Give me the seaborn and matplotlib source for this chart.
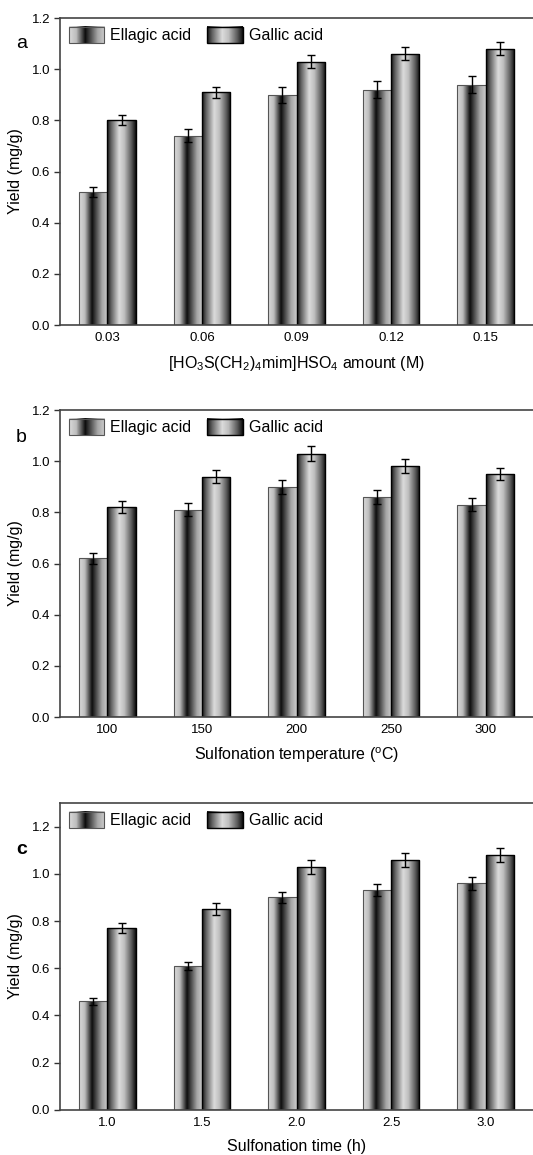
import numpy as np
import pandas as pd
import matplotlib
matplotlib.use("Agg")
import matplotlib.pyplot as plt
import seaborn as sns
from matplotlib.colors import LinearSegmentedColormap, Normalize
from matplotlib.patches import Rectangle
from matplotlib.legend_handler import HandlerBase
from matplotlib.image import BboxImage
from matplotlib.transforms import Bbox, TransformedBbox

# data
acids = ["Ellagic acid", "Gallic acid"]

amount_levels = ["0.03", "0.06", "0.09", "0.12", "0.15"]
amount_ellagic = [0.52, 0.74, 0.90, 0.92, 0.94]
amount_gallic = [0.80, 0.91, 1.03, 1.06, 1.08]
amount_ellagic_err = [0.020, 0.025, 0.032, 0.032, 0.032]
amount_gallic_err = [0.020, 0.022, 0.025, 0.025, 0.025]

temp_levels = ["100", "150", "200", "250", "300"]
temp_ellagic = [0.62, 0.81, 0.90, 0.86, 0.83]
temp_gallic = [0.82, 0.94, 1.03, 0.98, 0.95]
temp_ellagic_err = [0.020, 0.025, 0.028, 0.027, 0.025]
temp_gallic_err = [0.023, 0.025, 0.028, 0.027, 0.025]

time_levels = ["1.0", "1.5", "2.0", "2.5", "3.0"]
time_ellagic = [0.46, 0.61, 0.90, 0.93, 0.96]
time_gallic = [0.77, 0.85, 1.03, 1.06, 1.08]
time_ellagic_err = [0.015, 0.017, 0.025, 0.025, 0.027]
time_gallic_err = [0.022, 0.025, 0.030, 0.030, 0.030]

sns.set_theme(style="ticks")
plt.rcParams["font.family"] = ["Liberation Sans", "DejaVu Sans"]
plt.rcParams["mathtext.fontset"] = "custom"
plt.rcParams["mathtext.rm"] = "Liberation Sans"
plt.rcParams["mathtext.it"] = "Liberation Sans:italic"
plt.rcParams["mathtext.default"] = "regular"
plt.rcParams["text.color"] = "black"
plt.rcParams["axes.labelcolor"] = "black"
plt.rcParams["xtick.color"] = "black"
plt.rcParams["ytick.color"] = "black"

# grey shading across each bar, left to right
ell_cmap = LinearSegmentedColormap.from_list(
    "ell", [(0.0, (0.86,) * 3), (0.2, (0.74,) * 3), (0.45, (0.05,) * 3),
            (0.6, (0.3,) * 3), (0.8, (0.65,) * 3), (1.0, (0.8,) * 3)])
gal_cmap = LinearSegmentedColormap.from_list(
    "gal", [(0.0, (0.08,) * 3), (0.15, (0.4,) * 3), (0.42, (0.86,) * 3),
            (0.6, (0.75,) * 3), (0.85, (0.35,) * 3), (1.0, (0.05,) * 3)])
grad = np.linspace(0, 1, 128)[None, :]
styles = {
    "Ellagic acid": dict(cmap=ell_cmap, edge="#555555", lw=0.8),
    "Gallic acid": dict(cmap=gal_cmap, edge="black", lw=1.0),
}


class GradientHandler(HandlerBase):
    def __init__(self, cmap, edge, lw):
        super().__init__()
        self.cmap, self.edge, self.lw = cmap, edge, lw

    def create_artists(self, legend, orig_handle, xdescent, ydescent,
                       width, height, fontsize, trans):
        bb = TransformedBbox(Bbox.from_bounds(-xdescent, -ydescent, width, height), trans)
        img = BboxImage(bb, cmap=self.cmap, norm=Normalize(0, 1), interpolation="bilinear")
        img.set_data(grad)
        rect = Rectangle((-xdescent, -ydescent), width, height, facecolor="none",
                         edgecolor=self.edge, linewidth=self.lw, transform=trans)
        return [img, rect]


def panel(ax, levels, ell, gal, ell_err, gal_err, xlabel, ymax, letter, letter_y,
          letter_weight="normal"):
    df = pd.DataFrame({
        "cond": levels * 2,
        "acid": [acids[0]] * len(levels) + [acids[1]] * len(levels),
        "yield": ell + gal,
    })
    sns.barplot(data=df, x="cond", y="yield", hue="acid", order=levels,
                hue_order=acids, width=0.6, gap=0, errorbar=None,
                legend=False, ax=ax)
    errs = [ell_err, gal_err]
    vals = [ell, gal]
    bar_conts = list(ax.containers)
    for i, cont in enumerate(bar_conts):
        st = styles[acids[i]]
        xs = []
        for bar in cont.patches:
            x0, w, h = bar.get_x(), bar.get_width(), bar.get_height()
            xs.append(x0 + w / 2)
            im = ax.imshow(grad, cmap=st["cmap"], norm=Normalize(0, 1),
                           extent=[x0, x0 + w, 0, h], aspect="auto",
                           interpolation="bilinear", zorder=1.5)
            im.set_clip_path(bar)
            bar.set_facecolor("none")
            bar.set_edgecolor(st["edge"])
            bar.set_linewidth(st["lw"])
            bar.set_zorder(2)
        ax.errorbar(xs, vals[i], yerr=errs[i], fmt="none", ecolor="black",
                    elinewidth=1.0, capsize=3, capthick=1.0, zorder=3)

    ax.set_xlim(-0.5, len(levels) - 0.5)
    ax.set_ylim(0, ymax)
    ax.set_yticks(np.arange(0, 1.21, 0.2))
    ax.yaxis.set_major_formatter(matplotlib.ticker.FormatStrFormatter("%.1f"))
    ax.set_xlabel(xlabel, fontsize=11.5, labelpad=7)
    ax.set_ylabel("Yield (mg/g)", fontsize=11.5, labelpad=6)
    ax.tick_params(axis="y", length=4, width=1.0, pad=3, labelsize=9.5,
                   color="#333333")
    ax.tick_params(axis="x", length=0, pad=5, labelsize=9.5)
    for s in ["left", "top", "bottom"]:
        ax.spines[s].set_color("#444444")
        ax.spines[s].set_linewidth(1.2)
    ax.spines["right"].set_visible(False)

    handles = [Rectangle((0, 0), 1, 1) for _ in acids]
    hmap = {h: GradientHandler(styles[a]["cmap"], styles[a]["edge"], styles[a]["lw"])
            for h, a in zip(handles, acids)}
    ax.legend(handles, acids, handler_map=hmap, loc="upper left", ncol=2,
              frameon=False, fontsize=11.5, handlelength=2.2, handleheight=1.2,
              handletextpad=0.4, columnspacing=1.0, borderaxespad=0.35,
              borderpad=0.2)
    ax.figure.text(0.03, letter_y, letter, fontsize=14, ha="left", va="center",
                   fontweight=letter_weight)


fig = plt.figure(figsize=(5.33, 11.55), dpi=100)
ax_a = fig.add_axes([0.1126, 0.7186, 0.8874, 0.2658])
ax_b = fig.add_axes([0.1126, 0.3792, 0.8874, 0.2658])
ax_c = fig.add_axes([0.1126, 0.0390, 0.8874, 0.2658])

panel(ax_a, amount_levels, amount_ellagic, amount_gallic, amount_ellagic_err,
      amount_gallic_err, r"[HO$_3$S(CH$_2$)$_4$mim]HSO$_4$ amount (M)", 1.2,
      "a", 1 - 43 / 1155)
panel(ax_b, temp_levels, temp_ellagic, temp_gallic, temp_ellagic_err,
      temp_gallic_err, r"Sulfonation temperature ($^{o}$C)", 1.2,
      "b", 1 - 438 / 1155)
panel(ax_c, time_levels, time_ellagic, time_gallic, time_ellagic_err,
      time_gallic_err, "Sulfonation time (h)", 1.3,
      "c", 1 - 849 / 1155, letter_weight="bold")

fig.savefig("out.png", dpi=100, facecolor="white")
